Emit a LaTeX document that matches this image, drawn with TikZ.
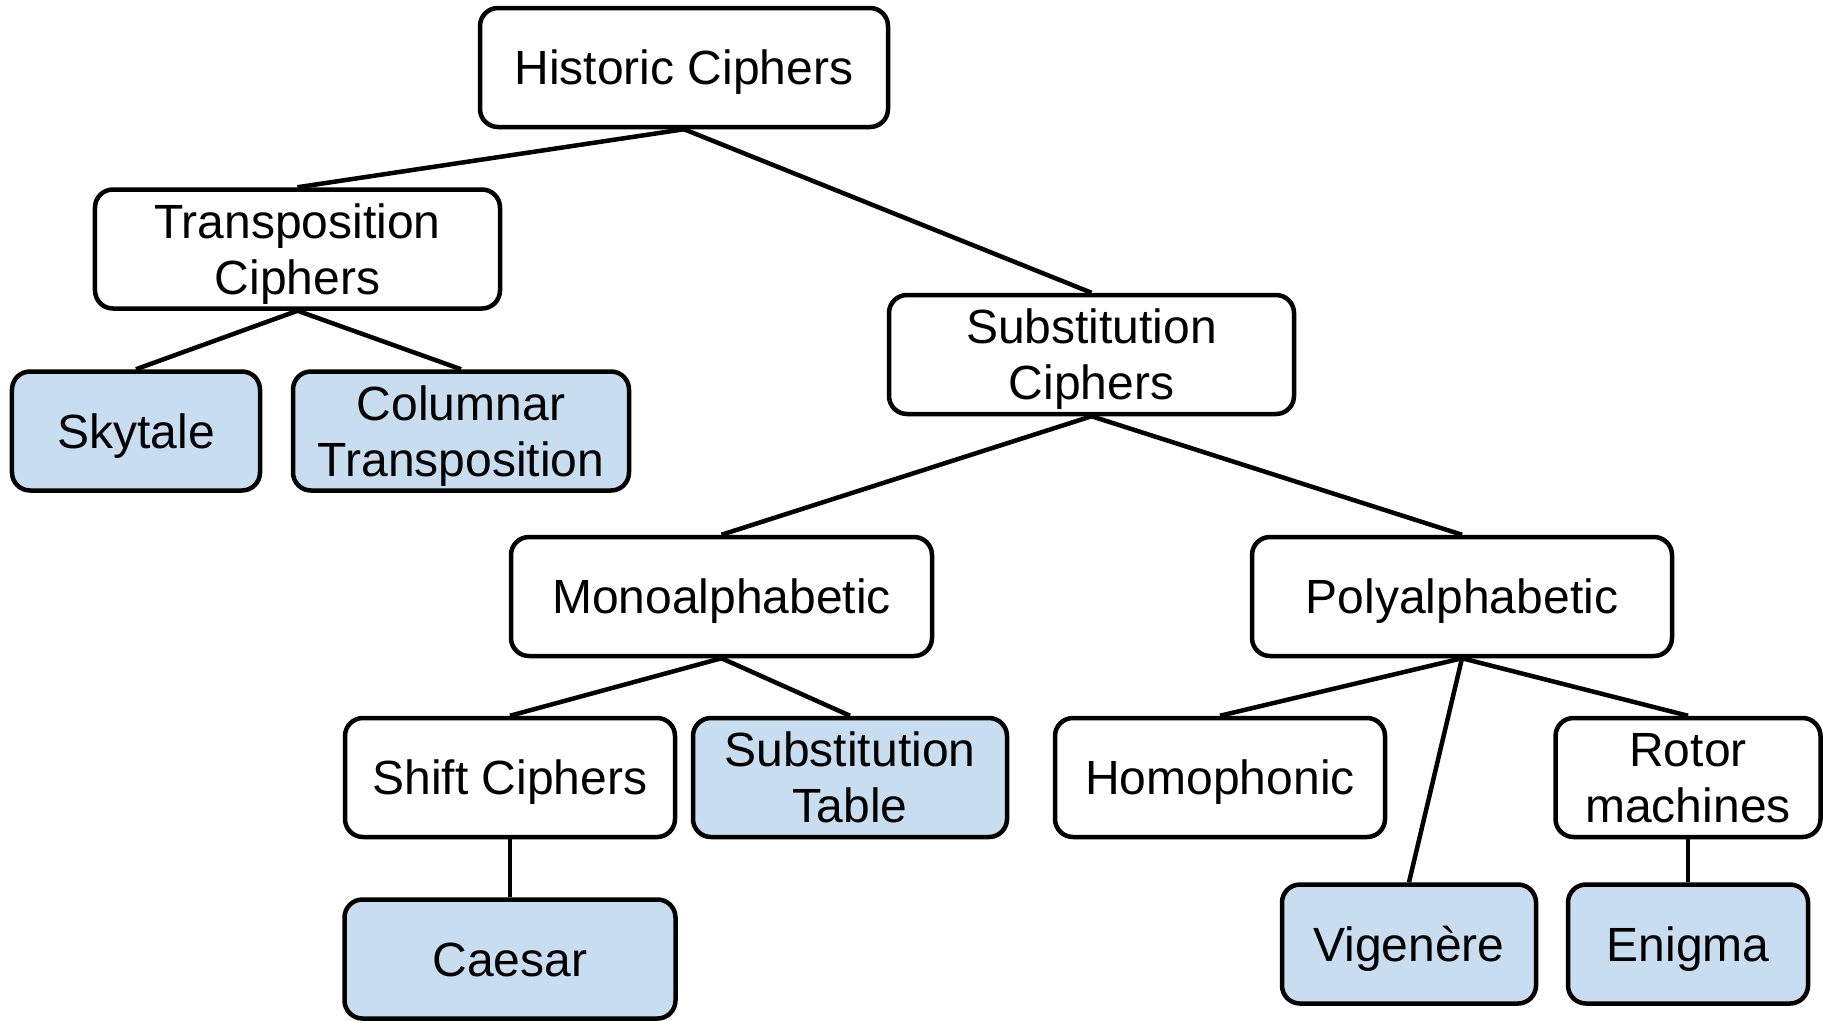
\documentclass[tikz,border=0pt]{standalone}
\usepackage{fontspec}
\setmainfont{Liberation Sans}
\usepackage{xcolor}
\usepackage{tikz}
\usetikzlibrary{positioning}
\definecolor{leaf-blue}{HTML}{C9DDF1}

\begin{document}
\begin{tikzpicture}[
    x=1bp, y=-1bp,
    box/.style={draw, line width=4.5bp, rounded corners=18bp, fill=white,
                minimum height=119bp, align=center, inner sep=0pt,
                text height=38bp, text depth=4bp,
                font=\fontsize{48bp}{56bp}\selectfont},
    leaf/.style={box, fill=leaf-blue},
    twoline/.style={text height=94bp, text depth=4bp},
    edge/.style={line width=4.5bp},
]
    \useasboundingbox (0,0) rectangle (1823,1020);

    % Top level
    \node[box, minimum width=408bp] (hist) at (684, 67.5) {Historic Ciphers};

    % Transposition branch
    \node[box, twoline, minimum width=405bp] (trans)    at (297.5, 249) {Transposition\\Ciphers};
    \node[leaf, minimum width=248bp]          (skytale)  at (136, 431)   {Skytale};
    \node[leaf, twoline, minimum width=336bp] (columnar) at (461, 431)   {Columnar\\Transposition};

    % Substitution branch
    \node[box, twoline, minimum width=405bp] (subst) at (1091.5, 354.5) {Substitution\\Ciphers};
    \node[box, minimum width=421bp]          (mono)  at (721.5, 596.5)  {Monoalphabetic};
    \node[box, minimum width=420bp]          (poly)  at (1462, 596.5)   {Polyalphabetic};

    \node[box, minimum width=330bp]           (shift)    at (510, 777.5)  {Shift Ciphers};
    \node[leaf, twoline, minimum width=314bp] (subtable) at (850, 777.5)  {Substitution\\Table};
    \node[box, minimum width=330bp]           (homo)     at (1220, 777.5) {Homophonic};
    \node[box, twoline, minimum width=265bp]  (rotor)    at (1688, 777.5) {Rotor\\machines};

    \node[leaf, minimum width=331bp] (caesar) at (510, 959)  {Caesar};
    \node[leaf, minimum width=254bp] (vig)    at (1409, 944) {Vigenère};
    \node[leaf, minimum width=240bp] (enigma) at (1688, 944) {Enigma};

    % Tree edges
    \draw[edge] (hist.south) -- (trans.north);
    \draw[edge] (hist.south) -- (subst.north);
    \draw[edge] (trans.south) -- (skytale.north);
    \draw[edge] (trans.south) -- (columnar.north);
    \draw[edge] (subst.south) -- (mono.north);
    \draw[edge] (subst.south) -- (poly.north);
    \draw[edge] (mono.south) -- (shift.north);
    \draw[edge] (mono.south) -- (subtable.north);
    \draw[edge] (poly.south) -- (homo.north);
    \draw[edge] (poly.south) -- (vig.north);
    \draw[edge] (poly.south) -- (rotor.north);
    \draw[edge] (shift.south) -- (caesar.north);
    \draw[edge] (rotor.south) -- (enigma.north);
\end{tikzpicture}
\end{document}
